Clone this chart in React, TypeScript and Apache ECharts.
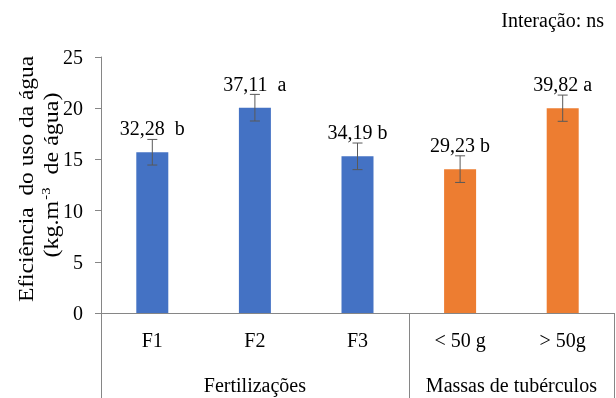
import React, { useEffect, useRef } from "react";
import * as echarts from "echarts";

const categories = ["F1", "F2", "F3", "< 50 g", "> 50g"];
const means = [15.7, 20.05, 15.3, 14.05, 20.0];
const errors = [1.25, 1.3, 1.3, 1.3, 1.28];
const labelTexts = ["32,28  b", "37,11  a", "34,19 b", "29,23 b", "39,82 a"];
const groupOf = [0, 0, 0, 1, 1];
const groupNames = ["Fertilizações", "Massas de tubérculos"];
const yTicks = [0, 5, 10, 15, 20, 25];
const yTitleLine1 = "Eficiência  do uso da água";
const yTitleLine2 = ["(kg.m", "-3", "  de água)"];
const noteText = "Interação: ns";

const groupColors = ["#4472C4", "#ED7D31"];
const FONT = "'Liberation Serif', 'Times New Roman', serif";
const AXIS = "#868686";

export default function App() {
  const ref = useRef<HTMLDivElement>(null);
  useEffect(() => {
    if (!ref.current) return;
    const chart = echarts.init(ref.current, null, { renderer: "svg" });
    const option: any = {
      animation: false,
      textStyle: { fontFamily: FONT, color: "#000" },
      title: {
        text: noteText,
        right: 7,
        top: 5,
        textStyle: { fontFamily: FONT, fontSize: 20, fontWeight: "normal", color: "#000" },
      },
      grid: { left: 101, right: 2, top: 57, bottom: 85 },
      xAxis: {
        type: "category",
        data: categories,
        axisLine: { show: true, lineStyle: { color: AXIS, width: 1 } },
        axisTick: { show: false },
        axisLabel: { fontFamily: FONT, fontSize: 20, color: "#000", margin: 17 },
      },
      yAxis: {
        type: "value",
        min: yTicks[0],
        max: yTicks[yTicks.length - 1],
        interval: yTicks[1] - yTicks[0],
        splitLine: { show: false },
        axisLine: { show: true, lineStyle: { color: AXIS, width: 1 } },
        axisTick: { show: true, length: 6, lineStyle: { color: AXIS } },
        axisLabel: { fontFamily: FONT, fontSize: 20, color: "#000", margin: 18 },
      },
      series: [
        {
          type: "bar",
          barWidth: 32,
          data: means.map((v, i) => ({
            value: v,
            itemStyle: { color: groupColors[groupOf[i]] },
          })),
          label: {
            show: true,
            position: "top",
            distance: 14,
            fontFamily: FONT,
            fontSize: 20,
            color: "#000",
            formatter: (p: any) => labelTexts[p.dataIndex],
          },
          z: 2,
        },
        {
          type: "custom",
          z: 3,
          data: means.map((m, i) => [i, m - errors[i], m + errors[i]]),
          renderItem: (params: any, api: any) => {
            const x = api.value(0);
            const lo = api.coord([x, api.value(1)]);
            const hi = api.coord([x, api.value(2)]);
            const h = 5;
            const st = { stroke: "#595959", lineWidth: 1 };
            return {
              type: "group",
              children: [
                { type: "line", shape: { x1: hi[0], y1: hi[1], x2: lo[0], y2: lo[1] }, style: st },
                { type: "line", shape: { x1: hi[0] - h, y1: hi[1], x2: hi[0] + h, y2: hi[1] }, style: st },
                { type: "line", shape: { x1: lo[0] - h, y1: lo[1], x2: lo[0] + h, y2: lo[1] }, style: st },
              ],
            };
          },
        },
      ],
    };
    chart.setOption(option);

    const px = (i: number) => chart.convertToPixel({ xAxisIndex: 0 }, i) as number;
    const y0 = chart.convertToPixel({ yAxisIndex: 0 }, 0) as number;
    const band = px(1) - px(0);
    const bottomY = 400;
    const boundaries: number[] = [px(0) - band / 2];
    for (let i = 1; i < categories.length; i++) {
      if (groupOf[i] !== groupOf[i - 1]) boundaries.push((px(i - 1) + px(i)) / 2);
    }
    boundaries.push(px(categories.length - 1) + band / 2);

    const graphics: any[] = boundaries.map((bx) => ({
      type: "line",
      shape: { x1: Math.round(bx) + 0.5, y1: y0, x2: Math.round(bx) + 0.5, y2: bottomY },
      style: { stroke: AXIS, lineWidth: 1 },
    }));
    groupNames.forEach((name, g) => {
      const idx = groupOf.map((gg, i) => (gg === g ? i : -1)).filter((i) => i >= 0);
      const cx = (px(idx[0]) + px(idx[idx.length - 1])) / 2;
      graphics.push({
        type: "text",
        x: cx,
        y: 385,
        style: {
          text: name,
          fontFamily: FONT,
          fontSize: 20,
          fill: "#000",
          textAlign: "center",
          textVerticalAlign: "middle",
        },
      });
    });
    // y-axis title (two rotated lines, stretched along their length like the reference)
    graphics.push({
      type: "text",
      x: 27,
      y: 179,
      rotation: Math.PI / 2,
      scaleX: 1.17,
      style: {
        text: yTitleLine1,
        fontFamily: FONT,
        fontSize: 20,
        fill: "#000",
        textAlign: "center",
        textVerticalAlign: "middle",
      },
    });
    graphics.push({
      type: "text",
      x: 51,
      y: 175,
      rotation: Math.PI / 2,
      scaleX: 1.2,
      style: {
        text: `{a|${yTitleLine2[0]}}{s|${yTitleLine2[1]}}{a|${yTitleLine2[2]}}`,
        fontFamily: FONT,
        fontSize: 20,
        fill: "#000",
        textAlign: "center",
        textVerticalAlign: "middle",
        rich: {
          a: { fontFamily: FONT, fontSize: 20, fill: "#000", lineHeight: 22 },
          s: { fontFamily: FONT, fontSize: 12, fill: "#000", lineHeight: 22, padding: [0, 1, 10, 1] },
        },
      },
    });
    chart.setOption({ graphic: graphics });

    return () => chart.dispose();
  }, []);
  return <div ref={ref} style={{ width: 616, height: 398, position: "fixed", left: 0, top: 0 }} />;
}
